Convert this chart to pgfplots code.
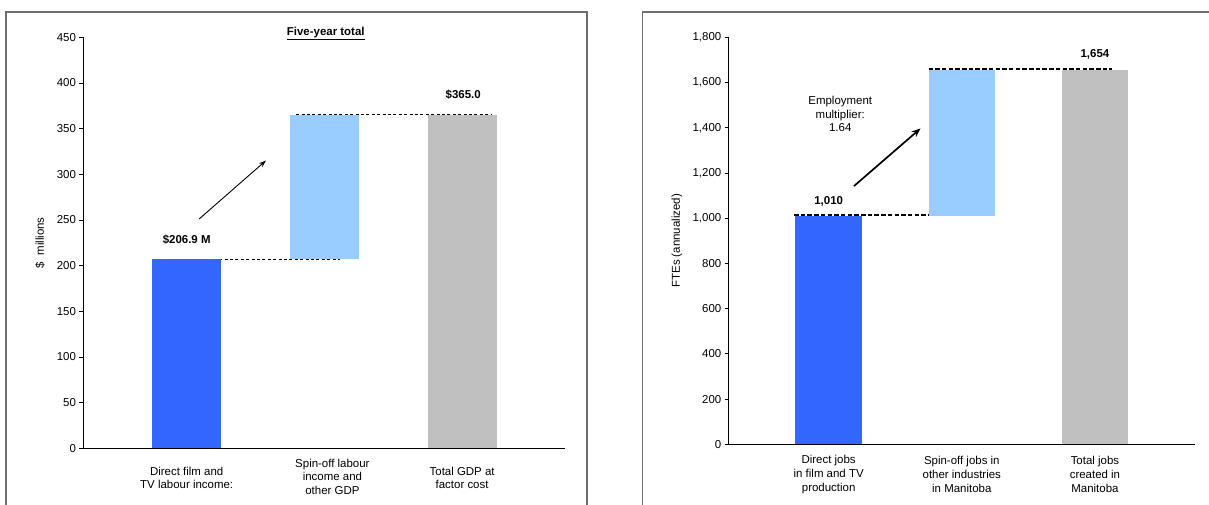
\documentclass[border=0pt]{standalone}
\usepackage{pgfplots}
\pgfplotsset{compat=1.18}
\usepackage{pgfplotstable}
\usepackage{fontspec}
\setmainfont{Liberation Sans}
\usetikzlibrary{arrows.meta}

\definecolor{directblue}{HTML}{3366FF}
\definecolor{spinblue}{HTML}{99CCFF}
\definecolor{totalgray}{HTML}{C0C0C0}
\definecolor{framegray}{HTML}{6E6E6E}
\newcommand\chartfont{\fontsize{11.5}{13.5}\selectfont}

% Waterfall data: direct impact, invisible base, spin-off impact, total
\pgfplotstableread{
pos direct base spin total
0 206.9 0 0 0
1 0 206.9 158.1 0
2 0 0 0 365.0
}\gdptable

\pgfplotstableread{
pos direct base spin total
0 1010 0 0 0
1 0 1010 644 0
2 0 0 0 1654
}\jobstable

\tikzset{valuelabel/.style={font=\bfseries\chartfont}}

\pgfplotsset{
  waterfall/.style={
    scale only axis,
    ybar stacked, bar width=0.5,
    xmin=-0.75, xmax=2.75, ymin=0,
    enlargelimits=false, clip=false,
    axis lines=left,
    axis line style={-, black, line width=0.9bp},
    tick align=outside, major tick length=4bp,
    tick style={black, line width=0.8bp},
    major x tick style={draw=none},
    xtick={0,1,2},
    xticklabel style={align=center, anchor=center, font=\chartfont},
    yticklabel style={font=\chartfont},
    /pgf/number format/assume math mode=true,
    every axis y label/.style={at={(axis description cs:0,0.5)},
      rotate=90, anchor=center, font=\chartfont},
  },
}

\begin{document}
\begin{tikzpicture}
\path[use as bounding box] (0,0) rectangle (1209bp,505bp);
\clip (0,0) rectangle (1209bp,505bp);

% chart frames
\draw[framegray, line width=1.1bp] (6bp,-10bp) -- (6bp,493bp) -- (587bp,493bp) -- (587bp,-10bp);
\draw[framegray, line width=1.1bp] (642.5bp,-10bp) -- (642.5bp,493bp) -- (1230bp,493bp);

% GDP waterfall
\begin{axis}[waterfall,
  at={(83.4bp,56.7bp)}, anchor=south west,
  width=482bp, height=411bp,
  ymax=450, ytick={0,50,...,450},
  xticklabels={
    {Direct film and\\TV labour income:},
    {\hspace*{16bp}\raisebox{3bp}{\begin{tabular}{@{}c@{}}Spin-off labour\\income and\\other GDP\end{tabular}}},
    {Total GDP at\\factor cost}},
  xticklabel style={yshift=-25.7bp},
  ylabel={\$\ \ millions},
  ylabel style={yshift=43.4bp},
]
\addplot[fill=directblue, draw=none] table[x=pos, y=direct] {\gdptable};
\addplot[fill=none, draw=none] table[x=pos, y=base] {\gdptable};
\addplot[fill=spinblue, draw=none] table[x=pos, y=spin] {\gdptable};
\addplot[fill=totalgray, draw=none] table[x=pos, y=total] {\gdptable};

\draw[black, line width=0.9bp, dash pattern=on 3bp off 2.4bp] (axis cs:-0.195,206.9) -- (axis cs:1.11,206.9);
\draw[black, line width=0.9bp, dash pattern=on 3bp off 2.4bp] (axis cs:0.795,365) -- (axis cs:2.22,365);
\draw[black, line width=0.9bp, -{Stealth[length=7bp, width=5bp]}] (axis cs:0.09,251) -- (axis cs:0.575,315);

\node[valuelabel] at (axis cs:0,228) {\$206.9 M};
\node[valuelabel] at (axis cs:1,298) {\$158.1 M};
\node[valuelabel] at (axis cs:2.008,387) {\$365.0};
\node[valuelabel] at (axis cs:1.01,454) {\underline{Five-year total}};
\end{axis}

% Employment waterfall
\begin{axis}[waterfall,
  at={(728.8bp,60.7bp)}, anchor=south west,
  width=466bp, height=407bp,
  ymax=1800, ytick={0,200,...,1800},
  xticklabels={
    {Direct jobs\\in film and TV\\production},
    {Spin-off jobs in\\other industries\\in Manitoba},
    {Total jobs\\created in\\Manitoba}},
  xticklabel style={yshift=-26bp, font=\fontsize{11.5}{14}\selectfont},
  ylabel={FTEs (annualized)},
  ylabel style={yshift=52bp},
]
\addplot[fill=directblue, draw=none] table[x=pos, y=direct] {\jobstable};
\addplot[fill=none, draw=none] table[x=pos, y=base] {\jobstable};
\addplot[fill=spinblue, draw=none] table[x=pos, y=spin] {\jobstable};
\addplot[fill=totalgray, draw=none] table[x=pos, y=total] {\jobstable};

\draw[black, line width=2bp, dash pattern=on 4.5bp off 2.2bp] (axis cs:-0.26,1016) -- (axis cs:0.97,1016);
\draw[black, line width=2bp, dash pattern=on 4.5bp off 2.2bp] (axis cs:0.75,1658) -- (axis cs:2.13,1658);
\draw[black, line width=1.7bp, -{Stealth[length=9bp, width=7bp]}] (axis cs:0.19,1142) -- (axis cs:0.69,1397);

\node[valuelabel] at (axis cs:0,1076) {1,010};
\node[valuelabel] at (axis cs:1,1390) {644};
\node[valuelabel] at (axis cs:2,1725) {1,654};
\node[font=\chartfont, align=center] at (axis cs:0.087,1461) {Employment\\multiplier:\\1.64};
\end{axis}
\end{tikzpicture}
\end{document}
